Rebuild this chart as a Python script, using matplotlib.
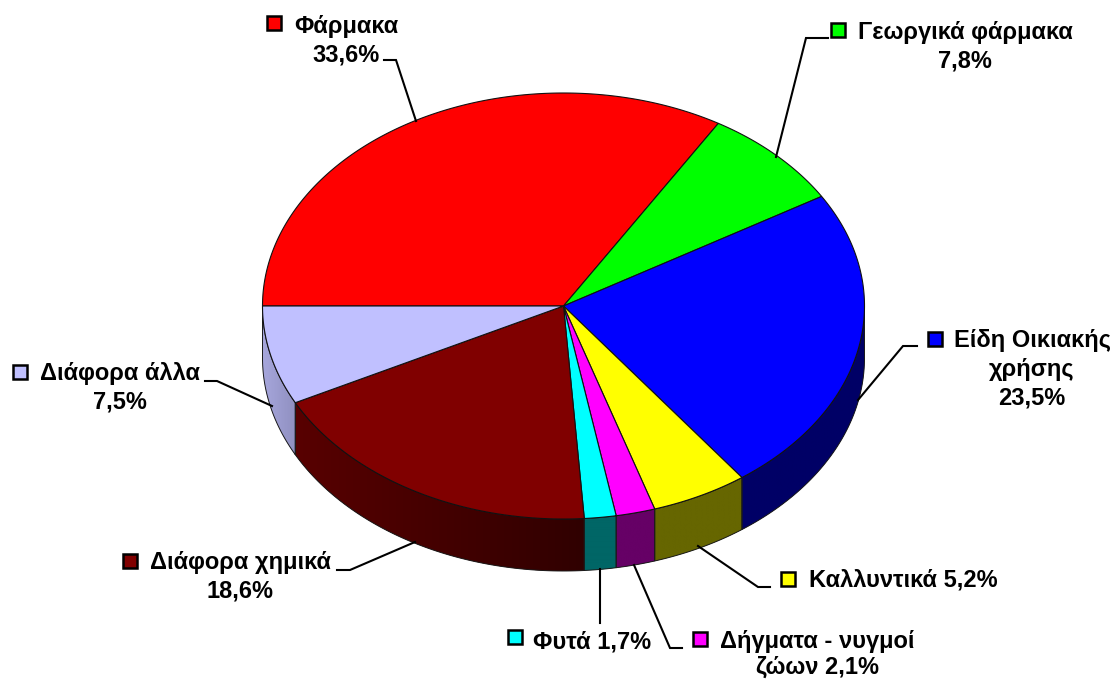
import numpy as np
import matplotlib
matplotlib.use('Agg')
import matplotlib.pyplot as plt
from matplotlib.patches import Polygon, Rectangle

plt.rcParams['font.family'] = ['Liberation Sans', 'DejaVu Sans']

# data
names = ['Φάρμακα', 'Γεωργικά φάρμακα', 'Είδη Οικιακής χρήσης', 'Καλλυντικά',
         'Δήγματα - νυγμοί ζώων', 'Φυτά', 'Διάφορα χημικά', 'Διάφορα άλλα']
values = [33.6, 7.8, 23.5, 5.2, 2.1, 1.7, 18.6, 7.5]
top_colors = ['#ff0000', '#00ff00', '#0000ff', '#ffff00',
              '#ff00ff', '#00ffff', '#800000', '#c0c0ff']
side_left = ['#660000', '#006600', '#000066', '#666600',
             '#660066', '#006666', '#580000', '#a6a6dc']
side_right = ['#660000', '#006600', '#000066', '#666600',
              '#660066', '#006666', '#300000', '#9090c0']
label_lines = [['Φάρμακα', '33,6%'], ['Γεωργικά φάρμακα', '7,8%'],
               ['Είδη Οικιακής', 'χρήσης', '23,5%'], ['Καλλυντικά 5,2%'],
               ['Δήγματα - νυγμοί', 'ζώων 2,1%'], ['Φυτά 1,7%'],
               ['Διάφορα χημικά', '18,6%'], ['Διάφορα άλλα', '7,5%']]

# layout, in pixels of the picture
label_x = [346, 965, 1032, 903, 817, 592, 240, 120]
label_y = [33, 39, 347, 587, 648, 648, 569, 380]
line_gap = [28.7, 28.7, 28.7, 28.7, 26, 28.7, 28.7, 28.7]
key_x = [267, 831, 928, 781, 693, 508, 123, 13]
key_y = [16, 23, 332, 572, 632, 630, 554, 365]
leaders = [[(384, 60), (396, 60), (416, 121)],
           [(828, 38), (806, 38), (776, 157)],
           [(917, 346), (903, 346), (858, 400)],
           [(770, 587), (758, 587), (698, 546)],
           [(682, 648), (670, 648), (634, 565)],
           [(600, 623), (600, 569)],
           [(337, 570), (350, 570), (415, 542)],
           [(205, 381), (217, 381), (272, 406)]]
cx, cy, rx, ry, depth = 563.5, 306, 301, 213, 52

fig = plt.figure(figsize=(11.18, 6.79), dpi=100)
ax = fig.add_axes([0, 0, 1, 1])


def ell(t, off=0):
    return np.column_stack([cx + rx * np.cos(t), cy - ry * np.sin(t) + off])


# slices run clockwise from the left edge, pi down to -pi
edges = np.pi - np.radians(np.cumsum([0] + values) * 3.6)

# sides first, only the front half (-pi..0) shows
for i in range(len(values)):
    hi = min(edges[i], 0)
    lo = max(edges[i + 1], -np.pi)
    if hi <= lo:
        continue
    t = np.linspace(hi, lo, 80)
    pts = np.vstack([ell(t), ell(t[::-1], depth)])
    poly = Polygon(pts, closed=True, fc=side_left[i], ec='none', zorder=1)
    ax.add_patch(poly)
    # horizontal shading, left to right
    c0 = np.array(matplotlib.colors.to_rgb(side_left[i]))
    c1 = np.array(matplotlib.colors.to_rgb(side_right[i]))
    grad = np.linspace(0, 1, 256)[None, :, None] * (c1 - c0) + c0
    im = ax.imshow(grad, extent=[pts[:, 0].min(), pts[:, 0].max(), pts[:, 1].max(), pts[:, 1].min()],
                   aspect='auto', zorder=1.1)
    im.set_clip_path(poly)
    ax.add_patch(Polygon(pts, closed=True, fc='none', ec='#1a1a1a', lw=0.7, zorder=1.2))

# top face
for i in range(len(values)):
    t = np.linspace(edges[i], edges[i + 1], 200)
    pts = np.vstack([[cx, cy], ell(t)])
    ax.add_patch(Polygon(pts, closed=True, fc=top_colors[i], ec='#111111', lw=0.8, zorder=2))

for line in leaders:
    xs, ys = zip(*line)
    ax.plot(xs, ys, color='black', lw=1.5, zorder=3, solid_joinstyle='miter')

for i in range(len(names)):
    for j, s in enumerate(label_lines[i]):
        ax.text(label_x[i], label_y[i] + j * line_gap[i], s, ha='center', va='baseline',
                fontsize=17, fontweight='bold', color='black', zorder=4)
    ax.add_patch(Rectangle((key_x[i], key_y[i]), 13.5, 13.5, fc=top_colors[i],
                           ec='black', lw=1.8, zorder=4))

ax.set_xlim(0, 1118)
ax.set_ylim(679, 0)
ax.axis('off')
fig.savefig('out.png', dpi=100, facecolor='white')
